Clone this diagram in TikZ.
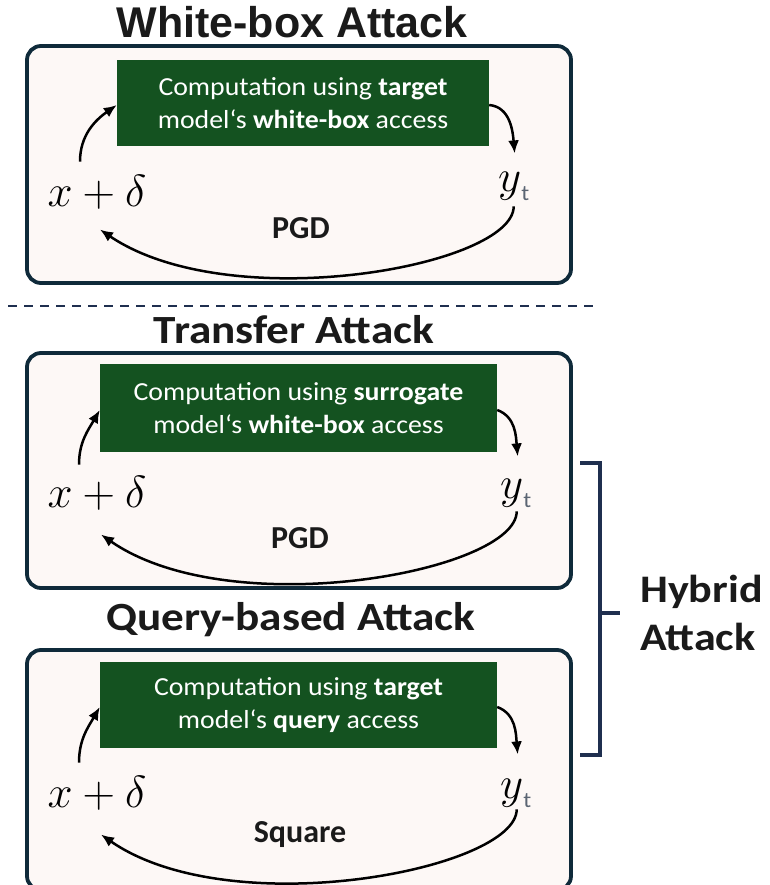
\RequirePackage{fix-cm}
\documentclass[tikz,border=0pt]{standalone}
\usepackage[no-math]{fontspec}
\setmainfont{Carlito}
\newfontfamily\gfont[FakeStretch=1.07]{Carlito}
\newfontfamily\tfont[FakeStretch=1.13]{Carlito}
\newfontfamily\wfont{Liberation Sans}
\usetikzlibrary{arrows.meta}
\definecolor{frameC}{HTML}{0F2A3A}
\definecolor{bgC}{HTML}{FDF8F6}
\definecolor{greenC}{HTML}{145220}
\definecolor{titleC}{HTML}{1A1A1A}
\definecolor{brC}{HTML}{1F2F4F}
\definecolor{subC}{HTML}{5B6573}
\tikzset{
  frame/.style={draw=frameC, line width=3.8pt, rounded corners=14pt, fill=bgC, minimum width=544pt, inner sep=0pt},
  gbox/.style={fill=greenC, text=white, font=\gfont\fontsize{26}{33}\selectfont, align=center, inner sep=0pt},
  ttl/.style={font=\tfont\bfseries\fontsize{40}{44}\selectfont, text=titleC, anchor=base, inner sep=0pt},
  ttlw/.style={font=\wfont\bfseries\fontsize{43}{48}\selectfont, text=titleC, anchor=base, inner sep=0pt},
  mth/.style={font=\fontsize{45}{48}\selectfont, anchor=base, inner sep=0pt},
  ytl/.style={font=\fontsize{45}{48}\selectfont, anchor=base west, inner sep=0pt},
  alg/.style={font=\bfseries\fontsize{32}{36}\selectfont, text=titleC, anchor=base, inner sep=0pt},
  arr/.style={-{Latex[length=13pt,width=11pt]}, line width=2.5pt, black},
  sepline/.style={draw=brC, line width=2pt, dash pattern=on 9pt off 7pt},
  brk/.style={draw=brC, line width=3.5pt},
  hyb/.style={font=\tfont\bfseries\fontsize{39}{48}\selectfont, text=titleC, align=left, anchor=west, inner sep=0pt}
}
\newcommand{\tsub}{\raisebox{-9pt}{\color{subC}\gfont\fontsize{22}{24}\selectfont t}}
\begin{document}
\begin{tikzpicture}[x=1pt,y=1pt]
\useasboundingbox (0,0) rectangle (769,-885);
\fill[white] (0,0) rectangle (769,-885);

% ---------- Panel 1 ----------
\node[ttlw] (t1) at (292,-38) {White-box Attack};
\node[frame, minimum height=237pt] (f1) at (299,-164.5) {};
\node[gbox, minimum width=372pt, minimum height=86pt] (g1) at (303,-103)
  {Computation using \textbf{target}\\model‘s \textbf{white-box} access};
\node[mth] (xd1) at (97,-207) {$x+\delta$};
\node[ytl] (yt1) at (498,-192) {$y$\tsub};
\node[alg] (pg1) at (301,-238) {PGD};
\draw[arr] ([xshift=-17pt,yshift=14pt]xd1.north) to[out=90,in=-145] ([yshift=-2pt]g1.west);
\draw[arr] ([yshift=-2pt]g1.east) to[out=-5,in=95] ([xshift=1pt,yshift=19pt]yt1.north);
\draw[arr] ([xshift=0pt,yshift=-5pt]yt1.south) .. controls +(0,-60) and +(130,-88) .. ([xshift=3pt,yshift=-19.5pt]xd1.south);

% ---------- separator ----------
\draw[sepline] (8,-306) -- (595,-306);

% ---------- Panel 2 ----------
\node[ttl] (t2) at (294,-343) {Transfer Attack};
\node[frame, minimum height=235pt] (f2) at (299,-470.5) {};
\node[gbox, minimum width=397pt, minimum height=88pt] (g2) at (298.5,-408)
  {Computation using \textbf{surrogate}\\model‘s \textbf{white-box} access};
\node[mth] (xd2) at (97,-507) {$x+\delta$};
\node[ytl] (yt2) at (500,-498) {$y$\tsub};
\node[alg] (pg2) at (300,-548) {PGD};
\draw[arr] ([xshift=-18pt,yshift=11pt]xd2.north) to[out=90,in=-120] ([yshift=-2pt]g2.west);
\draw[arr] ([yshift=-2pt]g2.east) to[out=-20,in=95] ([xshift=2pt,yshift=22pt]yt2.north);
\draw[arr] ([xshift=1pt,yshift=-4pt]yt2.south) .. controls +(0,-60) and +(130,-90) .. ([xshift=4pt,yshift=-24.5pt]xd2.south);

% ---------- Panel 3 ----------
\node[ttl] (t3) at (291,-630) {Query-based Attack};
\node[frame, minimum height=240pt] (f3) at (299,-770) {};
\node[gbox, minimum width=397pt, minimum height=86pt] (g3) at (298.5,-705)
  {Computation using \textbf{target}\\model‘s \textbf{query} access};
\node[mth] (xd3) at (97,-807) {$x+\delta$};
\node[ytl] (yt3) at (500,-798) {$y$\tsub};
\node[alg] (sq3) at (300,-842) {Square};
\draw[arr] ([xshift=-18pt,yshift=13pt]xd3.north) to[out=90,in=-120] ([yshift=-2pt]g3.west);
\draw[arr] ([yshift=-2pt]g3.east) to[out=-20,in=95] ([xshift=2pt,yshift=24pt]yt3.north);
\draw[arr] ([xshift=1pt,yshift=-2pt]yt3.south) .. controls +(0,-60) and +(130,-90) .. ([xshift=4pt,yshift=-24.5pt]xd3.south);

% ---------- bracket ----------
\coordinate (bt) at (580,-463);
\coordinate (bb) at (580,-755);
\coordinate (bm) at (620,-613);
\draw[brk] (bt) -- (600,-463) -- (600,-755) -- (bb);
\draw[brk] (600,-613) -- (bm);
\node[hyb] (hy) at (640,-613) {Hybrid\\Attack};
\end{tikzpicture}
\end{document}
